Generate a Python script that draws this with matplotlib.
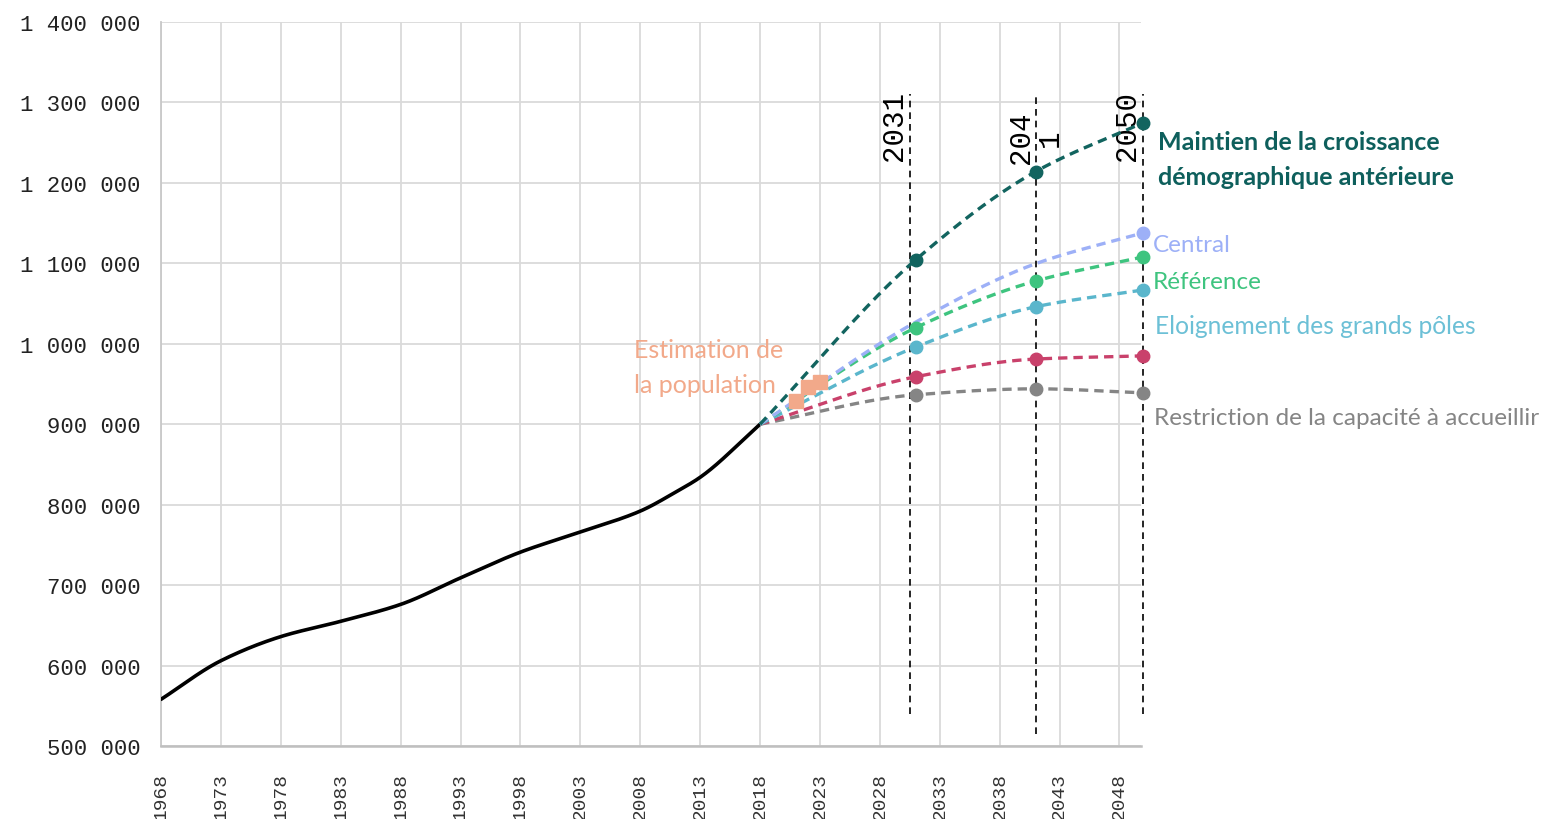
import numpy as np
import matplotlib
matplotlib.use("Agg")
import matplotlib.pyplot as plt
import matplotlib.transforms as mtransforms

# ---------------- data ----------------
hist_years = [1968, 1973, 1978, 1983, 1988, 1993, 1998, 2003, 2008, 2011, 2013, 2018]
hist_pop = [558000, 606000, 636000, 655000, 676000, 709000, 741000, 766000, 792000, 816000, 834000, 900000]

proj_years = [2018, 2031, 2041, 2050]
maintien = [900000, 1104500, 1214000, 1275000]
central = [900000, 1027000, 1099500, 1138000]
reference = [900000, 1020000, 1078000, 1108000]
eloignement = [900000, 996000, 1046000, 1067000]
scenario_rouge = [900000, 959000, 981000, 985000]
restriction = [900000, 936600, 944000, 939000]

estim_years = [2021, 2022, 2023]
estim_pop = [929000, 946500, 952700]

milestone_years = [2030.5, 2041, 2050]
milestone_labels = ["2031", "204\n1", "2050"]

x_ticks = list(range(1968, 2049, 5))
y_ticks = list(range(500000, 1400001, 100000))

# ---------------- helpers ----------------
def smooth(x, y, n=200):
    """monotone cubic Hermite rendering between the given points"""
    x = np.asarray(x, float); y = np.asarray(y, float)
    h = np.diff(x); d = np.diff(y) / h
    m = np.zeros_like(y)
    m[0] = d[0]; m[-1] = d[-1]
    for i in range(1, len(x) - 1):
        if d[i - 1] * d[i] <= 0:
            m[i] = 0
        else:
            w1 = 2 * h[i] + h[i - 1]; w2 = h[i] + 2 * h[i - 1]
            m[i] = (w1 + w2) / (w1 / d[i - 1] + w2 / d[i])
    xs, ys = [], []
    for i in range(len(x) - 1):
        t = np.linspace(0, 1, n, endpoint=(i == len(x) - 2))
        h00 = 2 * t**3 - 3 * t**2 + 1; h10 = t**3 - 2 * t**2 + t
        h01 = -2 * t**3 + 3 * t**2; h11 = t**3 - t**2
        xs.append(x[i] + t * h[i])
        ys.append(h00 * y[i] + h10 * h[i] * m[i] + h01 * y[i + 1] + h11 * h[i] * m[i + 1])
    return np.concatenate(xs), np.concatenate(ys)

def fmt(v):
    return f"{int(v):,}".replace(",", " ")

plt.rcParams['font.family'] = ['Lato', 'DejaVu Sans']
MONO = ['Liberation Mono', 'DejaVu Sans Mono']

fig = plt.figure(figsize=(15.56, 8.2), dpi=100)
ax = fig.add_axes([161 / 1556, 1 - 747 / 820, (1141 - 161) / 1556, (747 - 23) / 820])

ax.set_xlim(1968, 2049.8)
ax.set_ylim(500000, 1400000)
ax.set_xticks(x_ticks)
ax.set_yticks(y_ticks)
ax.set_xticklabels([str(v) for v in x_ticks], rotation=90, family=MONO, fontsize=14,
                   color='#333333', va='top')
ax.set_yticklabels([fmt(v) for v in y_ticks], family=MONO, fontsize=16, color='#222222')
ax.tick_params(axis='both', length=0)
ax.tick_params(axis='x', pad=19)
ax.tick_params(axis='y', pad=15)
ax.grid(True, color='#DADADA', linewidth=1.3)
ax.set_axisbelow(True)
for s in ['top', 'right']:
    ax.spines[s].set_visible(False)
ax.spines['left'].set_color('#C8C8C8')
ax.spines['bottom'].set_color('#BFBFBF')
ax.spines['left'].set_linewidth(1.3)
ax.spines['bottom'].set_linewidth(1.8)

# milestone vertical lines
bottoms = [540000, 515000, 540000]
for xm, yb in zip(milestone_years, bottoms):
    ax.plot([xm, xm], [yb, 1311000], color='black', lw=1.2, ls=(0, (4, 3)), zorder=3, clip_on=False)

off = mtransforms.offset_copy(ax.transData, fig=fig, x=-2, y=0, units='dots')
ax.text(milestone_years[0], 1315000, milestone_labels[0], rotation=90, family=MONO, fontsize=21,
        ha='right', va='top', transform=off, zorder=5)
ax.text(milestone_years[2], 1315000, milestone_labels[2], rotation=90, family=MONO, fontsize=21,
        ha='right', va='top', transform=off, zorder=5)
ax.text(milestone_years[1], 1257000, milestone_labels[1], rotation=90, family=MONO, fontsize=21,
        ha='center', va='center', multialignment='center', linespacing=1.05, zorder=5)

# historical
hx, hy = smooth(hist_years, hist_pop)
ax.plot(hx, hy, color='black', lw=2.6, zorder=4, solid_capstyle='round')

series = [
    (restriction, '#858585', True),
    (scenario_rouge, '#C9416B', True),
    (eloignement, '#5AB6CC', True),
    (reference, '#3EC47F', True),
    (central, '#9DB0F7', False),
    (maintien, '#12645F', True),
]
for vals, col, allm in series:
    sx, sy = smooth(proj_years, vals)
    ax.plot(sx, sy, color=col, lw=2.4, ls=(0, (2.8, 1.8)), zorder=5, clip_on=False)
    mk_x = proj_years[1:] if allm else proj_years[-1:]
    mk_y = vals[1:] if allm else vals[-1:]
    ax.plot(mk_x, mk_y, 'o', color=col, ms=9, zorder=6, clip_on=False)

ax.plot(estim_years, estim_pop, 's', color='#F2A98A', ms=9.5, zorder=7)

# annotations
ax.text(2007.5, 971000, "Estimation de\nla population", color='#F2A98A', fontsize=18,
        ha='left', va='center', linespacing=1.6, zorder=8)

def label(px, py, txt, col, **kw):
    fig.text(px / 1556, 1 - py / 820, txt, color=col, ha='left', va='center', **kw)

label(1158, 160, "Maintien de la croissance\ndémographique antérieure", '#0E5F5C',
      fontsize=18, fontweight='bold', linespacing=1.6)
label(1153, 245, "Central", '#9DB0F7', fontsize=17.5)
label(1153, 283, "Référence", '#3EC47F', fontsize=17.5)
label(1155, 327, "Eloignement des grands pôles", '#6CC0D6', fontsize=17.7)
label(1154, 419, "Restriction de la capacité à accueillir", '#858585', fontsize=17.5)

fig.savefig("out.png", dpi=100)
